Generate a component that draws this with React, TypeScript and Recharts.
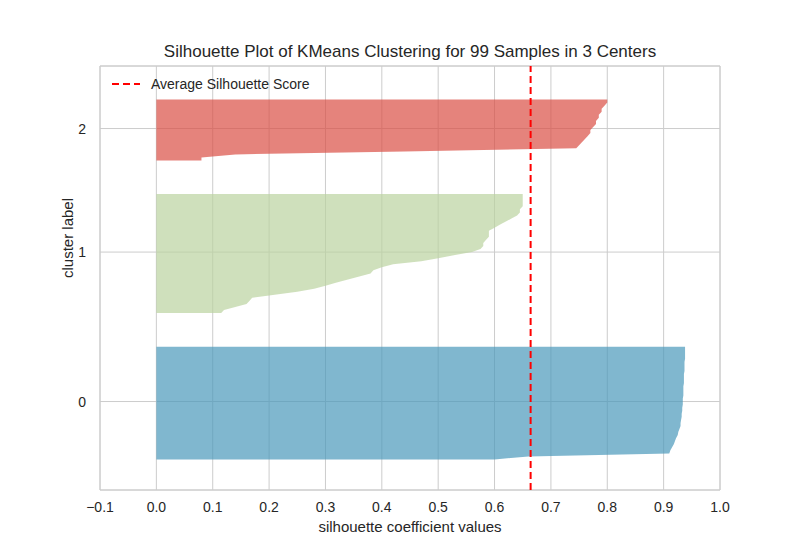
import { ComposedChart, Area, XAxis, YAxis, CartesianGrid, ReferenceLine } from "recharts";

// silhouette values per cluster, sorted ascending (bottom -> top of each band)
const cluster0 = [
  0.60, 0.66, 0.91, 0.912, 0.915, 0.918, 0.92, 0.922, 0.925, 0.926, 0.928, 0.93, 0.93, 0.931,
  0.932, 0.932, 0.933, 0.933, 0.934, 0.934, 0.934, 0.935, 0.935, 0.935, 0.935, 0.936, 0.936,
  0.936, 0.936, 0.937, 0.937, 0.937, 0.937, 0.938, 0.938, 0.938, 0.938, 0.938,
];
const cluster1 = [
  0.115, 0.12, 0.14, 0.16, 0.165, 0.17, 0.21, 0.25, 0.28, 0.30, 0.32, 0.34, 0.36, 0.38, 0.385,
  0.40, 0.42, 0.47, 0.50, 0.53, 0.56, 0.575, 0.58, 0.58, 0.585, 0.59, 0.59, 0.59, 0.60, 0.61,
  0.62, 0.63, 0.64, 0.645, 0.645, 0.65, 0.65, 0.65, 0.65, 0.65,
];
const cluster2 = [
  0.08, 0.08, 0.14, 0.44, 0.745, 0.75, 0.755, 0.76, 0.765, 0.77, 0.77, 0.775, 0.78, 0.78,
  0.785, 0.785, 0.79, 0.79, 0.795, 0.80, 0.80,
];
const clusters = [cluster0, cluster1, cluster2];
const clusterLabels = ["0", "1", "2"];
const colors = ["#4a98ba", "#bad39f", "#da4e44"];
const avgScore = 0.664;
const xTicks = [-0.1, 0, 0.1, 0.2, 0.3, 0.4, 0.5, 0.6, 0.7, 0.8, 0.9, 1.0];

// stack bands like yellowbrick: gap of 10 between clusters
const bands: { data: { y: number; x: number }[]; mid: number }[] = [];
let yLower = 10;
for (const vals of clusters) {
  bands.push({ data: vals.map((x, i) => ({ y: yLower + i, x })), mid: yLower + 0.5 * vals.length });
  yLower += vals.length + 10;
}
const yMax = yLower;
const yTicks = bands.map((b) => b.mid);

const font = "'Liberation Sans', Arial, sans-serif";
const tick = { fontSize: 14, fill: "#262626", fontFamily: font };

export default function App() {
  return (
    <div style={{ position: "absolute", left: 0, top: 0, width: 800, height: 550, background: "#fff", fontFamily: font }}>
      <div style={{ position: "absolute", top: 42, width: 820, textAlign: "center", fontSize: 17, color: "#262626" }}>
        Silhouette Plot of KMeans Clustering for 99 Samples in 3 Centers
      </div>
      <ComposedChart width={800} height={550} layout="vertical" margin={{ top: 66, right: 80, bottom: 0, left: 0 }}>
        <CartesianGrid stroke="#cccccc" strokeWidth={1} />
        <XAxis
          type="number" dataKey="x" domain={[-0.1, 1.0]} ticks={xTicks} height={60}
          tick={tick} tickLine={false} axisLine={false} tickMargin={6}
          tickFormatter={(v: number) => (v < 0 ? "\u2212" + Math.abs(v).toFixed(1) : v.toFixed(1))}
          label={{ value: "silhouette coefficient values", position: "insideBottom", offset: 18, fontSize: 15, fill: "#262626" }}
        />
        <YAxis
          type="number" dataKey="y" domain={[0, yMax]} ticks={yTicks} width={100} reversed
          tick={tick} tickLine={false} axisLine={false} tickMargin={8}
          tickFormatter={(v: number) => clusterLabels[yTicks.indexOf(v)]}
          label={{ value: "cluster label", angle: -90, position: "insideLeft", offset: 68, fontSize: 15, fill: "#262626" }}
        />
        <ReferenceLine y={0} stroke="#cccccc" />
        <ReferenceLine y={yMax} stroke="#cccccc" />
        <ReferenceLine x={-0.1} stroke="#cccccc" />
        <ReferenceLine x={1.0} stroke="#cccccc" />
        {bands.map((b, i) => (
          <Area
            key={i} data={b.data} dataKey="x" type="linear" stroke="none"
            fill={colors[i]} fillOpacity={0.7} isAnimationActive={false}
          />
        ))}
        <ReferenceLine x={avgScore} stroke="#ff0000" strokeWidth={2} strokeDasharray="7 4" />
      </ComposedChart>
      <div style={{ position: "absolute", left: 112, top: 76, display: "flex", alignItems: "center", fontSize: 14, color: "#262626" }}>
        <svg width={28} height={10}><line x1={0} y1={5} x2={28} y2={5} stroke="#ff0000" strokeWidth={2} strokeDasharray="7 4" /></svg>
        <span style={{ marginLeft: 11 }}>Average Silhouette Score</span>
      </div>
    </div>
  );
}
